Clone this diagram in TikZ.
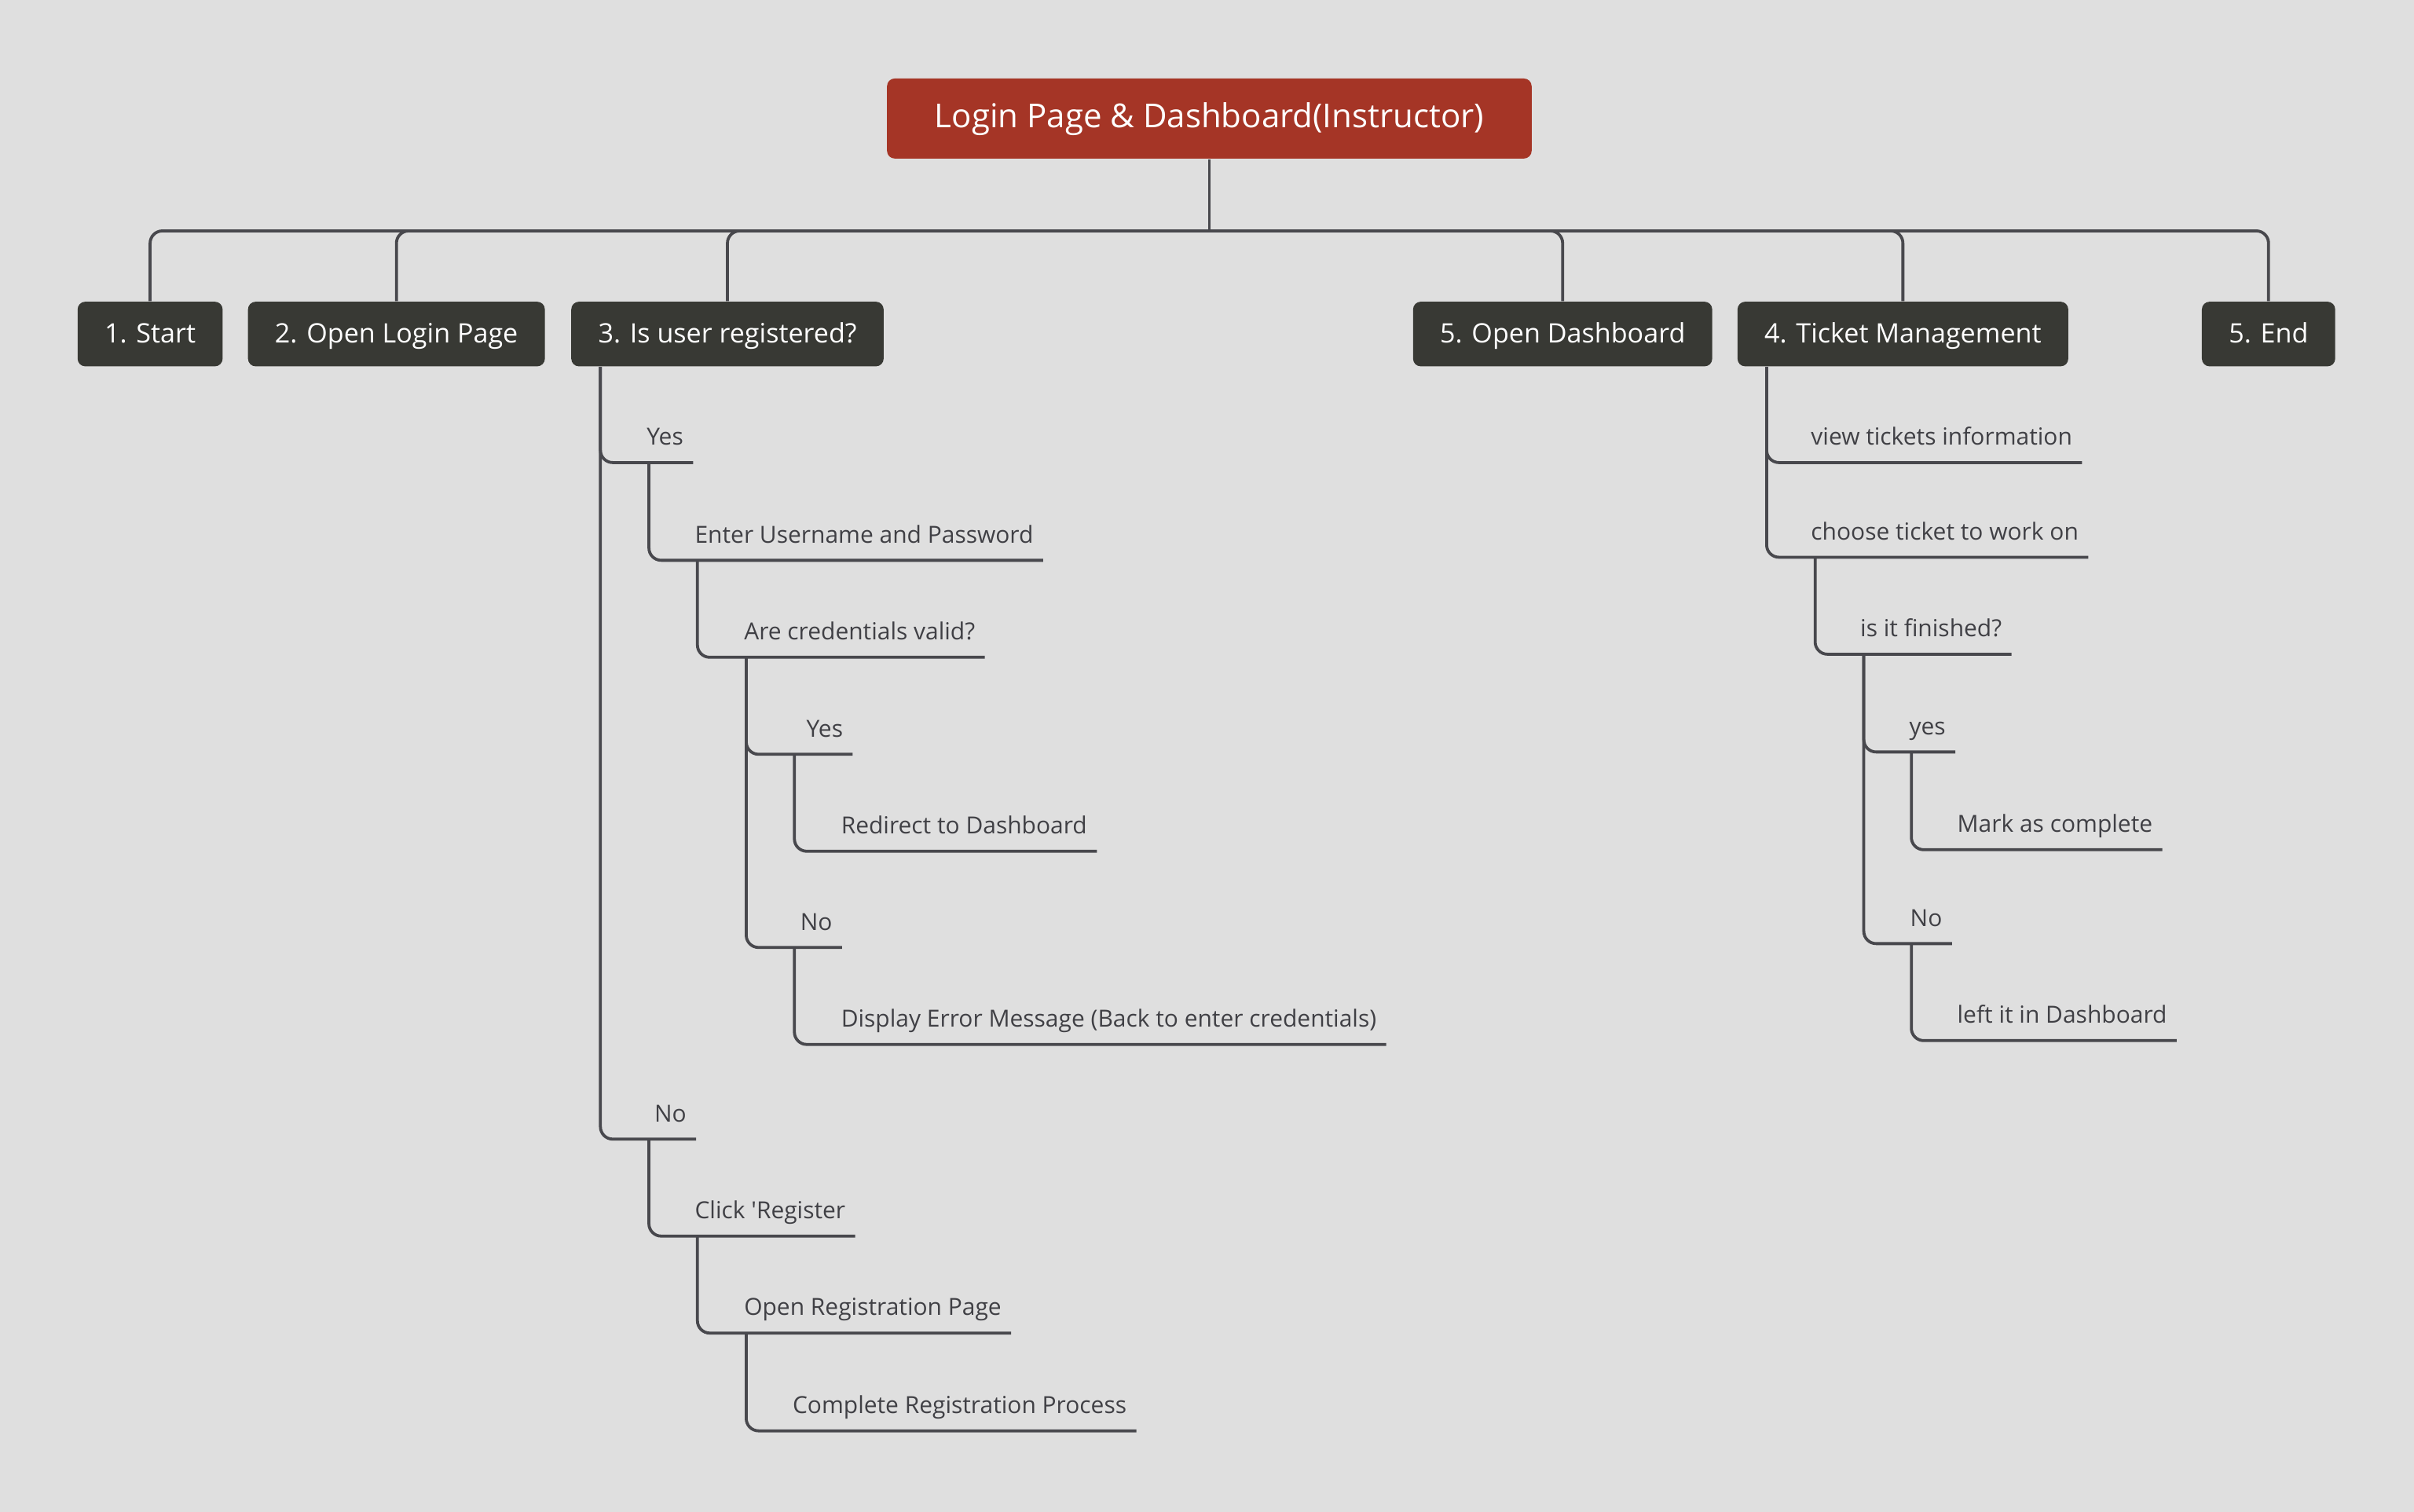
\documentclass[tikz,border=0pt]{standalone}
\usepackage{fontspec}
\setmainfont{Open Sans}
\definecolor{bgcol}{HTML}{DFDFDF}
\definecolor{rootred}{HTML}{A53526}
\definecolor{boxdark}{HTML}{383934}
\definecolor{linegray}{HTML}{48484D}
\definecolor{textgray}{HTML}{404045}

\begin{document}
\begin{tikzpicture}[
  x=0.02cm, y=-0.02cm,
  rootbox/.style={fill=rootred, text=white, rounded corners=0.1cm, minimum height=1.04cm,
    inner xsep=0.62cm, text height=0.31cm, text depth=0.07cm, font=\fontsize{12.2}{14}\selectfont},
  stepbox/.style={fill=boxdark, text=white, rounded corners=0.1cm, minimum height=0.84cm,
    inner xsep=0.35cm, text height=0.27cm, text depth=0.05cm, font=\fontsize{9.9}{12}\selectfont},
  item/.style={anchor=south west, inner sep=0pt, text depth=0.22cm, text=textgray,
    font=\fontsize{8.7}{10}\selectfont},
  edge/.style={draw=linegray, line width=1.1pt, rounded corners=0.16cm}
]
\fill[bgcol] (0,0) rectangle (1568,982);

\node[rootbox] (root) at (785.5,77) {Login Page \& Dashboard(Instructor)};
\node[stepbox] (s1) at (97.5,217) {1. Start};
\node[stepbox] (s2) at (257.5,217) {2. Open Login Page};
\node[stepbox] (s3) at (472.5,217) {3. Is user registered?};
\node[stepbox] (s5a) at (1015,217) {5. Open Dashboard};
\node[stepbox] (s4) at (1236,217) {4. Ticket Management};
\node[stepbox] (s5b) at (1473.5,217) {5. End};

\coordinate (bus) at (785.5,150);
\draw[edge] (root.south) -- (bus);
\draw[edge] (bus) -| (s1.north);
\draw[edge] (bus) -| (s2.north);
\draw[edge] (bus) -| (s3.north);
\draw[edge] (bus) -| (s5a.north);
\draw[edge] (bus) -| (s4.north);
\draw[edge] (bus) -| (s5b.north);

\coordinate (a0) at (390,0);
\coordinate (a1) at (421.5,0);
\coordinate (a2) at (453,0);
\coordinate (a3) at (484.7,0);
\coordinate (a4) at (516,0);
\coordinate (b0) at (1147.5,0);
\coordinate (b1) at (1179,0);
\coordinate (b2) at (1210.6,0);
\coordinate (b3) at (1241.5,0);

\node[item] (yes1) at (419.8,300.5) {Yes};
\node[item] (enter) at (451,364) {Enter Username and Password};
\node[item] (valid) at (483,427) {Are credentials valid?};
\node[item] (yes2) at (523.5,490) {Yes};
\node[item] (redir) at (546,553) {Redirect to Dashboard};
\node[item] (no2) at (519.5,615.5) {No};
\node[item] (err) at (546,678.5) {Display Error Message (Back to enter credentials)};
\node[item] (no1) at (424.7,740) {No};
\node[item] (click) at (451,803) {Click \textquotesingle Register};
\node[item] (openreg) at (483,866) {Open Registration Page};
\node[item] (complete) at (514.5,929.5) {Complete Registration Process};

\draw[edge] (s3.south -| a0) |- ([xshift=0.12cm]yes1.south east);
\draw[edge] (s3.south -| a0) |- ([xshift=0.12cm]no1.south east);
\draw[edge] (yes1.south -| a1) |- ([xshift=0.12cm]enter.south east);
\draw[edge] (enter.south -| a2) |- ([xshift=0.12cm]valid.south east);
\draw[edge] (valid.south -| a3) |- ([xshift=0.12cm]yes2.south east);
\draw[edge] (valid.south -| a3) |- ([xshift=0.12cm]no2.south east);
\draw[edge] (yes2.south -| a4) |- ([xshift=0.12cm]redir.south east);
\draw[edge] (no2.south -| a4) |- ([xshift=0.12cm]err.south east);
\draw[edge] (no1.south -| a1) |- ([xshift=0.12cm]click.south east);
\draw[edge] (click.south -| a2) |- ([xshift=0.12cm]openreg.south east);
\draw[edge] (openreg.south -| a3) |- ([xshift=0.12cm]complete.south east);

\node[item] (view) at (1176,300.5) {view tickets information};
\node[item] (choose) at (1176,362) {choose ticket to work on};
\node[item] (finished) at (1208,425) {is it finished?};
\node[item] (yes3) at (1239.8,488.5) {yes};
\node[item] (mark) at (1271,552) {Mark as complete};
\node[item] (no3) at (1240.4,613) {No};
\node[item] (left) at (1271,676) {left it in Dashboard};

\draw[edge] (s4.south -| b0) |- ([xshift=0.12cm]view.south east);
\draw[edge] (s4.south -| b0) |- ([xshift=0.12cm]choose.south east);
\draw[edge] (choose.south -| b1) |- ([xshift=0.12cm]finished.south east);
\draw[edge] (finished.south -| b2) |- ([xshift=0.12cm]yes3.south east);
\draw[edge] (finished.south -| b2) |- ([xshift=0.12cm]no3.south east);
\draw[edge] (yes3.south -| b3) |- ([xshift=0.12cm]mark.south east);
\draw[edge] (no3.south -| b3) |- ([xshift=0.12cm]left.south east);
\end{tikzpicture}
\end{document}
